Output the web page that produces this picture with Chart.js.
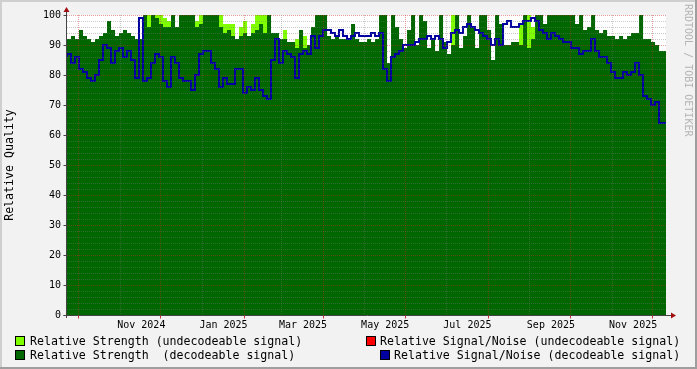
<!DOCTYPE html>
<html>
<head>
<meta charset="utf-8">
<script src="https://cdn.jsdelivr.net/npm/chart.js@4.4.1/dist/chart.umd.min.js"></script>
<style>
    html, body { margin: 0; padding: 0; background: #f2f2f2; }
    #wrap { position: relative; width: 697px; height: 369px; overflow: hidden; }
    #chart { position: absolute; left: 0; top: 0; }
    .lg { position: absolute; font: 11.6px 'DejaVu Sans Mono', monospace; color: #000; white-space: pre; line-height: 14px; }
    .box { position: absolute; width: 8px; height: 8px; border: 1px solid #000; }
    #tag { position: absolute; left: 683px; top: 4px; writing-mode: vertical-rl; font: 10px 'DejaVu Sans Mono', monospace; color: #b4b4b4; }
</style>
</head>
<body>
<div id="wrap">
    <canvas id="chart" width="697" height="369"></canvas>
    <div class="box" id="b1" style="left:15px; top:336px;"></div>
    <div class="lg" style="left:30px; top:334px;">Relative Strength (undecodeable signal)</div>
    <div class="box" id="b2" style="left:15px; top:350px;"></div>
    <div class="lg" style="left:30px; top:348px;">Relative Strength  (decodeable signal)</div>
    <div class="box" id="b3" style="left:366px; top:336px;"></div>
    <div class="lg" style="left:380px; top:334px;">Relative Signal/Noise (undecodeable signal)</div>
    <div class="box" id="b4" style="left:380px; top:350px;"></div>
    <div class="lg" style="left:394px; top:348px;">Relative Signal/Noise (decodeable signal)</div>
    <div id="tag">RRDTOOL / TOBI OETIKER</div>
</div>
<script>
// time axis: days counted from 2024-10-01
const baseDate = Date.UTC(2024, 9, 1);
const firstDay = -8.16;      // first sample column
const stepDays = 2.969;      // one column per sample
const axisMin = -8.16;
const axisMax = 436.4;

const gridMonths = ['2024-10-01', '2024-11-01', '2024-12-01', '2025-01-01', '2025-02-01', '2025-03-01', '2025-04-01',
    '2025-05-01', '2025-06-01', '2025-07-01', '2025-08-01', '2025-09-01', '2025-10-01', '2025-11-01', '2025-12-01'];
const labelMonths = ['2024-11-17', '2025-01-17', '2025-03-17', '2025-05-17', '2025-07-17', '2025-09-17', '2025-11-17'];
const labelTexts = ['Nov 2024', 'Jan 2025', 'Mar 2025', 'May 2025', 'Jul 2025', 'Sep 2025', 'Nov 2025'];
const yTicks = [0, 10, 20, 30, 40, 50, 60, 70, 80, 90, 100];

// Relative Strength (decodeable signal)
const strengthDecoded = [
    92, 92, 93, 92, 95, 93, 92, 91, 92, 93,
    94, 98, 95, 93, 94, 95, 94, 93, 92, 92,
    100, 96, 100, 99, 97, 96, 96, 100, 96, 100,
    100, 100, 100, 96, 97, 100, 100, 100, 100, 96,
    94, 95, 93, 92, 93, 94, 93, 94, 95, 97,
    94, 100, 94, 94, 92, 92, 91, 91, 89, 95,
    89, 90, 96, 100, 100, 100, 93, 92, 93, 92,
    92, 92, 97, 92, 91, 91, 92, 91, 92, 100,
    100, 84, 100, 96, 92, 89, 95, 100, 90, 100,
    98, 89, 92, 88, 100, 91, 87, 90, 100, 89,
    93, 100, 96, 89, 100, 100, 95, 85, 100, 97,
    90, 90, 91, 91, 90, 100, 89, 92, 100, 100,
    97, 100, 100, 100, 100, 100, 100, 100, 97, 100,
    95, 96, 100, 95, 94, 95, 93, 93, 92, 93,
    92, 93, 94, 94, 100, 92, 92, 91, 90, 88
];

// Relative Strength (undecodeable signal), 0 where none shows
const strengthUndecoded = [
    0, 0, 0, 0, 0, 0, 0, 0, 0, 0,
    0, 0, 0, 0, 0, 0, 0, 0, 0, 0,
    0, 100, 0, 100, 100, 99, 98, 0, 0, 0,
    0, 0, 0, 98, 100, 0, 0, 0, 0, 100,
    97, 97, 97, 0, 96, 98, 0, 97, 100, 100,
    100, 0, 0, 0, 0, 95, 0, 0, 92, 0,
    93, 0, 0, 0, 0, 0, 0, 0, 0, 0,
    0, 0, 0, 0, 0, 0, 0, 0, 0, 0,
    0, 0, 0, 0, 0, 0, 0, 0, 0, 0,
    0, 0, 0, 0, 0, 0, 0, 100, 0, 0,
    0, 0, 0, 0, 0, 0, 0, 0, 0, 0,
    0, 0, 0, 0, 97, 0, 100, 96, 0, 0,
    0, 0, 0, 0, 0, 0, 0, 0, 0, 0,
    0, 0, 0, 0, 0, 0, 0, 0, 0, 0,
    0, 0, 0, 0, 0, 0, 0, 0, 0, 0
];

// Relative Signal/Noise (decodeable signal)
const snrDecoded = [
    86, 87, 84, 86, 82, 81, 79, 78, 80, 85,
    90, 89, 84, 88, 89, 86, 88, 85, 79, 99,
    78, 79, 84, 87, 86, 78, 76, 86, 84, 79,
    78, 78, 75, 80, 87, 88, 88, 84, 82, 76,
    79, 77, 77, 82, 82, 74, 76, 75, 79, 75,
    73, 72, 85, 92, 84, 88, 87, 86, 79, 87,
    88, 87, 93, 89, 93, 95, 95, 94, 93, 95,
    93, 92, 93, 94, 93, 93, 93, 94, 93, 94,
    82, 78, 86, 87, 88, 90, 90, 90, 91, 92,
    92, 93, 92, 93, 92, 89, 91, 94, 95, 94,
    96, 97, 96, 95, 94, 93, 92, 90, 92, 90,
    97, 98, 96, 96, 97, 98, 98, 99, 98, 95,
    94, 92, 94, 93, 92, 91, 91, 89, 89, 87,
    88, 88, 92, 88, 86, 86, 84, 81, 79, 79,
    81, 80, 81, 84, 80, 73, 72, 70, 71, 64
];

const colDecoded = '#006600';
const colUndecoded = '#7fff00';
const colSnrUndecoded = '#ff0000';
const colSnrDecoded = '#0000a0';
const monoFont = "'DejaVu Sans Mono', monospace";

document.getElementById('b1').style.background = colUndecoded;
document.getElementById('b2').style.background = colDecoded;
document.getElementById('b3').style.background = colSnrUndecoded;
document.getElementById('b4').style.background = colSnrDecoded;

function dayOf(str) {
    return (Date.parse(str + 'T00:00:00Z') - baseDate) / 864e5;
}

// stepped series need one closing point after the last column
function toPoints(vals) {
    const pts = vals.map((v, i) => ({ x: firstDay + i * stepDays, y: v }));
    pts.push({ x: firstDay + vals.length * stepDays, y: vals[vals.length - 1] });
    return pts;
}

const rrdLook = {
    id: 'rrdLook',
    beforeDraw(chart) {
        const c = chart.ctx, a = chart.chartArea;
        c.save();
        c.fillStyle = '#f2f2f2';
        c.fillRect(0, 0, chart.width, chart.height);
        c.fillStyle = '#cfcfcf';
        c.fillRect(0, 0, chart.width, 2);
        c.fillRect(0, 0, 2, chart.height);
        c.fillStyle = '#9e9e9e';
        c.fillRect(0, chart.height - 2, chart.width, 2);
        c.fillRect(chart.width - 2, 0, 2, chart.height);
        c.fillStyle = '#ffffff';
        c.fillRect(a.left, a.top, a.right - a.left, a.bottom - a.top);
        c.restore();
    },
    afterDatasetsDraw(chart) {
        const c = chart.ctx, a = chart.chartArea;
        const xs = chart.scales.x, ys = chart.scales.y;
        c.save();
        c.lineWidth = 1;
        c.setLineDash([1, 1]);
        for (let v = 2; v <= 100; v += 2) {
            const y = Math.round(ys.getPixelForValue(v)) + 0.5;
            c.strokeStyle = v % 10 === 0 ? 'rgba(200,40,40,0.45)' : 'rgba(120,120,120,0.4)';
            c.beginPath(); c.moveTo(a.left, y); c.lineTo(a.right, y); c.stroke();
        }
        gridMonths.forEach((d, i) => {
            const x = Math.round(xs.getPixelForValue(dayOf(d))) + 0.5;
            c.strokeStyle = i % 2 === 0 ? 'rgba(200,40,40,0.45)' : 'rgba(120,120,120,0.4)';
            c.beginPath(); c.moveTo(x, a.top); c.lineTo(x, a.bottom); c.stroke();
        });
        c.setLineDash([]);

        // axes
        const x0 = a.left - 0.5, y0 = Math.round(a.bottom) + 0.5;
        c.strokeStyle = '#444';
        c.beginPath(); c.moveTo(x0, a.bottom + 3); c.lineTo(x0, a.top - 5); c.stroke();
        c.beginPath(); c.moveTo(x0 - 3, y0); c.lineTo(a.right + 6, y0); c.stroke();
        yTicks.forEach(v => {
            const y = Math.round(ys.getPixelForValue(v)) + 0.5;
            c.beginPath(); c.moveTo(x0 - 3, y); c.lineTo(x0, y); c.stroke();
        });
        c.strokeStyle = '#c03030';
        gridMonths.forEach((d, i) => {
            if (i % 2) return;
            const x = Math.round(xs.getPixelForValue(dayOf(d))) + 0.5;
            c.beginPath(); c.moveTo(x, y0); c.lineTo(x, y0 + 3); c.stroke();
        });
        c.fillStyle = '#a01010';
        c.beginPath(); c.moveTo(x0, a.top - 8); c.lineTo(x0 - 3, a.top - 3); c.lineTo(x0 + 3, a.top - 3); c.closePath(); c.fill();
        c.beginPath(); c.moveTo(a.right + 10, y0); c.lineTo(a.right + 5, y0 - 3); c.lineTo(a.right + 5, y0 + 3); c.closePath(); c.fill();
        c.restore();
    }
};

new Chart(document.getElementById('chart'), {
    type: 'line',
    data: {
        datasets: [
            {
                label: 'Relative Signal/Noise (decodeable signal)',
                data: toPoints(snrDecoded),
                stepped: 'after',
                borderColor: colSnrDecoded,
                borderWidth: 2,
                pointRadius: 0,
                fill: false
            },
            {
                label: 'Relative Strength (decodeable signal)',
                data: toPoints(strengthDecoded),
                stepped: 'after',
                borderWidth: 0,
                borderColor: 'rgba(0,0,0,0)',
                backgroundColor: colDecoded,
                pointRadius: 0,
                fill: 'origin'
            },
            {
                label: 'Relative Strength (undecodeable signal)',
                data: toPoints(strengthUndecoded),
                stepped: 'after',
                borderWidth: 0,
                borderColor: 'rgba(0,0,0,0)',
                backgroundColor: colUndecoded,
                pointRadius: 0,
                fill: 'origin'
            }
        ]
    },
    options: {
        responsive: false,
        animation: false,
        layout: { padding: { left: 0, right: 31, top: 15, bottom: 0 } },
        plugins: { legend: { display: false }, tooltip: { enabled: false } },
        scales: {
            x: {
                type: 'linear',
                min: axisMin,
                max: axisMax,
                grid: { display: false, drawTicks: false },
                border: { display: false },
                afterBuildTicks: ax => { ax.ticks = labelMonths.map(d => ({ value: dayOf(d) })); },
                afterFit: ax => { ax.height = 54; },
                ticks: {
                    autoSkip: false,
                    maxRotation: 0,
                    padding: 4,
                    color: '#000',
                    font: { family: monoFont, size: 10 },
                    callback: (v, i) => labelTexts[i]
                }
            },
            y: {
                min: 0,
                max: 100,
                grid: { display: false, drawTicks: false },
                border: { display: false },
                afterFit: ax => { ax.width = 67; },
                ticks: {
                    stepSize: 10,
                    padding: 6,
                    color: '#000',
                    font: { family: monoFont, size: 10 }
                },
                title: {
                    display: true,
                    text: 'Relative Quality',
                    color: '#000',
                    font: { family: monoFont, size: 11.6 },
                    padding: { top: 3, bottom: 0 }
                }
            }
        }
    },
    plugins: [rrdLook]
});
</script>
</body>
</html>
